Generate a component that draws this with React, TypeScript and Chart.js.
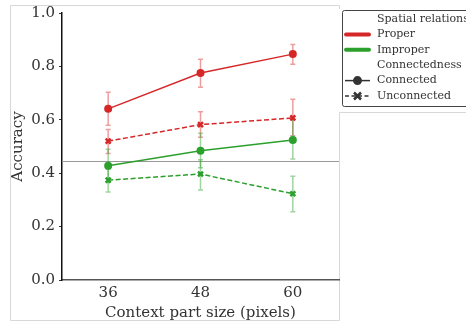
import React, { useEffect, useRef } from 'react';
import { Chart, registerables } from 'chart.js';
Chart.register(...registerables);

const contextSizes = [36, 48, 60];
const properConnected = [0.641, 0.775, 0.846];
const properConnectedLow = [0.58, 0.722, 0.808];
const properConnectedHigh = [0.703, 0.827, 0.882];
const properUnconnected = [0.52, 0.582, 0.607];
const properUnconnectedLow = [0.474, 0.535, 0.54];
const properUnconnectedHigh = [0.564, 0.63, 0.677];
const improperConnected = [0.428, 0.484, 0.524];
const improperConnectedLow = [0.365, 0.42, 0.453];
const improperConnectedHigh = [0.49, 0.55, 0.6];
const improperUnconnected = [0.374, 0.397, 0.323];
const improperUnconnectedLow = [0.33, 0.337, 0.256];
const improperUnconnectedHigh = [0.415, 0.45, 0.389];
const chanceLevel = 0.446;
const yTicks = [0, 0.2, 0.4, 0.6, 0.8, 1.0];

const RED = '#d62728';
const GREEN = '#2ca02c';
const TEXT = '#333333';
const FONT = 'DejaVu Serif';

const legendRows = [
  { kind: 'header', text: 'Spatial relations' },
  { kind: 'thick', color: RED, text: 'Proper' },
  { kind: 'thick', color: GREEN, text: 'Improper' },
  { kind: 'header', text: 'Connectedness' },
  { kind: 'solid', color: TEXT, text: 'Connected' },
  { kind: 'dashed', color: TEXT, text: 'Unconnected' },
];

const pts = (vals: number[]) => vals.map((v, i) => ({ x: contextSizes[i], y: v }));

const seriesList = [
  { label: 'Proper connected', color: RED, vals: properConnected, lo: properConnectedLow, hi: properConnectedHigh, dashed: false },
  { label: 'Proper unconnected', color: RED, vals: properUnconnected, lo: properUnconnectedLow, hi: properUnconnectedHigh, dashed: true },
  { label: 'Improper connected', color: GREEN, vals: improperConnected, lo: improperConnectedLow, hi: improperConnectedHigh, dashed: false },
  { label: 'Improper unconnected', color: GREEN, vals: improperUnconnected, lo: improperUnconnectedLow, hi: improperUnconnectedHigh, dashed: true },
];

function hexA(hex: string, a: number) {
  const r = parseInt(hex.slice(1, 3), 16), g = parseInt(hex.slice(3, 5), 16), b = parseInt(hex.slice(5, 7), 16);
  return `rgba(${r},${g},${b},${a})`;
}

const framePlugin = {
  id: 'frame',
  beforeDraw(chart: any) {
    const ctx = chart.ctx;
    ctx.save();
    ctx.fillStyle = '#ffffff';
    ctx.fillRect(0, 0, chart.width, chart.height);
    ctx.strokeStyle = '#d8d8d8';
    ctx.lineWidth = 1;
    ctx.beginPath();
    ctx.moveTo(10.5, 5.5); ctx.lineTo(339.5, 5.5); ctx.lineTo(339.5, 9);
    ctx.moveTo(10.5, 5.5); ctx.lineTo(10.5, 320.5); ctx.lineTo(339.5, 320.5);
    ctx.moveTo(339.5, 320.5); ctx.lineTo(339.5, 112.5); ctx.lineTo(466, 112.5);
    ctx.stroke();
    ctx.restore();
  },
  beforeDatasetsDraw(chart: any) {
    const ctx = chart.ctx;
    const xs = chart.scales.x, ys = chart.scales.y;
    const area = chart.chartArea;
    ctx.save();
    ctx.strokeStyle = '#999999';
    ctx.lineWidth = 1;
    const cy = Math.round(ys.getPixelForValue(chanceLevel)) + 0.5;
    ctx.beginPath();
    ctx.moveTo(area.left, cy); ctx.lineTo(area.right, cy);
    ctx.stroke();
    seriesList.forEach((s) => {
      ctx.strokeStyle = hexA(s.color, 0.45);
      ctx.lineWidth = 1.5;
      s.vals.forEach((_, i) => {
        const px = xs.getPixelForValue(contextSizes[i]);
        const yl = ys.getPixelForValue(s.lo[i]);
        const yh = ys.getPixelForValue(s.hi[i]);
        ctx.beginPath();
        ctx.moveTo(px, yl); ctx.lineTo(px, yh);
        ctx.moveTo(px - 2.5, yl); ctx.lineTo(px + 2.5, yl);
        ctx.moveTo(px - 2.5, yh); ctx.lineTo(px + 2.5, yh);
        ctx.stroke();
      });
    });
    ctx.restore();
  },
  afterDraw(chart: any) {
    const ctx = chart.ctx;
    ctx.save();
    ctx.fillStyle = '#ffffff';
    ctx.strokeStyle = '#444444';
    ctx.lineWidth = 1;
    ctx.beginPath();
    if (ctx.roundRect) ctx.roundRect(342.5, 10.5, 140, 96, 2); else ctx.rect(342.5, 10.5, 140, 96);
    ctx.fill();
    ctx.stroke();
    ctx.font = `11px "${FONT}"`;
    ctx.textBaseline = 'middle';
    ctx.textAlign = 'left';
    legendRows.forEach((row, i) => {
      const y = 19 + i * 15.4;
      const x0 = 345, x1 = 370;
      if (row.kind === 'thick') {
        ctx.strokeStyle = row.color;
        ctx.lineWidth = 4;
        ctx.lineCap = 'round';
        ctx.setLineDash([]);
        ctx.beginPath(); ctx.moveTo(x0 + 1, y); ctx.lineTo(x1 - 1, y); ctx.stroke();
      } else if (row.kind === 'solid') {
        ctx.strokeStyle = row.color;
        ctx.lineWidth = 1.5;
        ctx.lineCap = 'butt';
        ctx.setLineDash([]);
        ctx.beginPath(); ctx.moveTo(x0, y); ctx.lineTo(x1, y); ctx.stroke();
        ctx.fillStyle = row.color;
        ctx.beginPath(); ctx.arc((x0 + x1) / 2, y, 4.5, 0, Math.PI * 2); ctx.fill();
      } else if (row.kind === 'dashed') {
        ctx.strokeStyle = row.color;
        ctx.lineWidth = 1.5;
        ctx.lineCap = 'butt';
        ctx.setLineDash([4, 2.5]);
        ctx.beginPath(); ctx.moveTo(x0, y); ctx.lineTo(x1, y); ctx.stroke();
        ctx.setLineDash([]);
        const cx = (x0 + x1) / 2;
        ctx.lineWidth = 2.5;
        ctx.beginPath();
        ctx.moveTo(cx - 3.5, y - 3.5); ctx.lineTo(cx + 3.5, y + 3.5);
        ctx.moveTo(cx - 3.5, y + 3.5); ctx.lineTo(cx + 3.5, y - 3.5);
        ctx.stroke();
      }
      ctx.fillStyle = TEXT;
      ctx.fillText(row.text, 377, y);
    });
    ctx.restore();
  },
};

export default function App() {
  const ref = useRef<HTMLCanvasElement | null>(null);
  useEffect(() => {
    if (!ref.current) return;
    const chart = new Chart(ref.current, {
      type: 'line',
      data: {
        datasets: seriesList.map((s) => ({
          label: s.label,
          data: pts(s.vals),
          borderColor: s.color,
          backgroundColor: s.color,
          borderWidth: 1.5,
          borderDash: s.dashed ? [5, 2.5] : [],
          pointStyle: s.dashed ? 'crossRot' : 'circle',
          pointRadius: s.dashed ? 3.5 : 4,
          pointBorderWidth: s.dashed ? 2.5 : 0,
          pointBackgroundColor: s.color,
          pointBorderColor: s.color,
          tension: 0,
          fill: false,
        })),
      },
      options: {
        responsive: false,
        animation: false,
        devicePixelRatio: 1,
        layout: { padding: { left: 0, right: 127, top: 13, bottom: 0 } },
        plugins: { legend: { display: false }, tooltip: { enabled: false } },
        scales: {
          x: {
            type: 'linear',
            min: 30,
            max: 66,
            afterFit: (s: any) => { s.height = 42; },
            afterBuildTicks: (s: any) => { s.ticks = contextSizes.map((v) => ({ value: v })); },
            grid: { display: false },
            border: { display: true, color: '#555555', width: 1.5 },
            ticks: { color: TEXT, font: { family: FONT, size: 15 }, padding: -4, callback: (v: any) => String(v) },
            title: { display: true, text: 'Context part size (pixels)', color: TEXT, font: { family: FONT, size: 15 }, padding: { top: 0, bottom: 0 } },
          },
          y: {
            min: 0,
            max: 1,
            afterFit: (s: any) => { s.width = 62; },
            afterBuildTicks: (s: any) => { s.ticks = yTicks.map((v) => ({ value: v })); },
            grid: { display: true, drawOnChartArea: false, drawTicks: true, tickLength: 3, color: '#333333' },
            border: { display: true, color: '#111111', width: 1.5 },
            ticks: { color: TEXT, font: { family: FONT, size: 15 }, padding: 4, callback: (v: any) => Number(v).toFixed(1) },
            title: { display: true, text: 'Accuracy', color: TEXT, font: { family: FONT, size: 15 }, padding: { top: 9, bottom: 0 } },
          },
        },
      },
      plugins: [framePlugin],
    } as any);
    return () => chart.destroy();
  }, []);
  return (
    <div style={{ position: 'absolute', left: 0, top: 0, width: 466, height: 322 }}>
      <canvas ref={ref} width={466} height={322} style={{ display: 'block' }} />
    </div>
  );
}
